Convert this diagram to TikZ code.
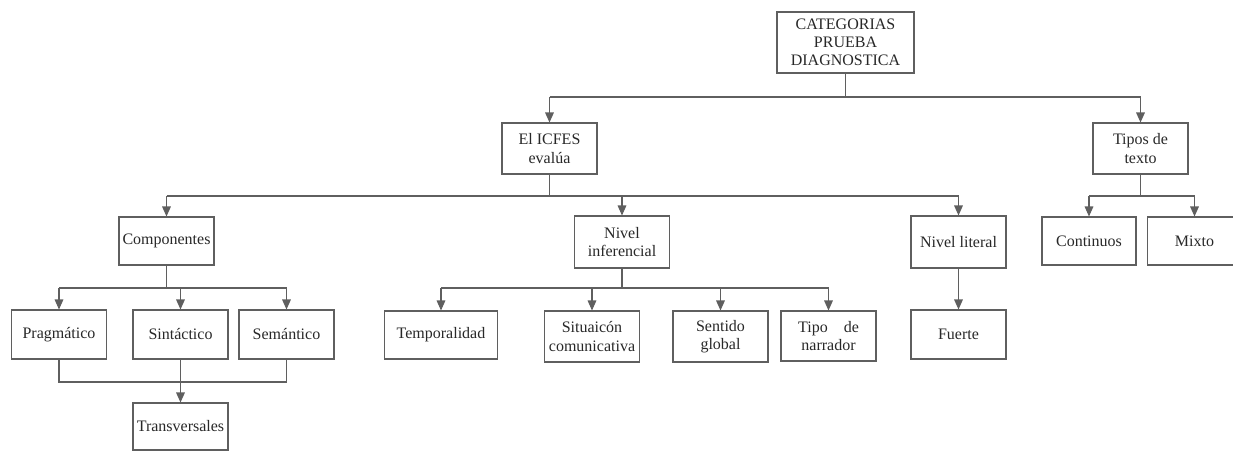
\documentclass[tikz,border=0pt]{standalone}
\usepackage{fontspec}
\setmainfont{LiberationSerif}[Extension=.ttf, UprightFont=*-Regular, BoldFont=*-Bold, ItalicFont=*-Italic]
\usetikzlibrary{arrows.meta}
\definecolor{ln}{RGB}{95,95,95}
\definecolor{tx}{RGB}{40,40,40}
\tikzset{
  bx/.style={draw=ln, line width=0.8pt, fill=white, align=center, text=tx,
    font=\fontsize{12}{13.6}\selectfont, inner sep=0pt, minimum width=71.25pt, minimum height=36pt},
  conn/.style={draw=ln, line width=0.8pt},
  arr/.style={conn, -{Triangle[width=6.5pt,length=7.5pt]}}
}
\begin{document}
\begin{tikzpicture}[x=0.75pt,y=-0.75pt]
\useasboundingbox (0,0) rectangle (1233,451);
% nodes
\node[bx, minimum width=102.75pt, minimum height=45.75pt] (top) at (845.5,42.5) {CATEGORIAS\\PRUEBA\\DIAGNOSTICA};
\node[bx, minimum height=38.25pt] (icfes) at (549.5,148.5) {El ICFES\\evalúa};
\node[bx, minimum height=38.25pt] (tipos) at (1140.5,148.5) {Tipos de\\texto};
\node[bx, minimum width=70.5pt] (cont) at (1089,241) {Continuos};
\node[bx, minimum width=70.5pt] (mixto) at (1194.5,241) {Mixto};
\node[bx] (comp) at (166.5,241) {Componentes};
\node[bx, minimum height=39pt] (ninf) at (622,242) {Nivel\\inferencial};
\node[bx, minimum height=39pt] (nlit) at (958.5,242) {Nivel literal};
\node[bx, minimum height=36.75pt] (prag) at (59,334.5) {Pragmático};
\node[bx, minimum height=36.75pt] (sint) at (180.5,334.5) {Sintáctico};
\node[bx, minimum height=36.75pt] (sem) at (286.5,334.5) {Semántico};
\node[bx, minimum height=35.25pt] (trans) at (180.5,426.5) {Transversales};
\node[bx, minimum width=84.75pt] (temp) at (441,335) {Temporalidad};
\node[bx, minimum height=38.25pt] (sit) at (592,336.5) {Situaicón\\comunicativa};
\node[bx, minimum height=38.25pt] (sent) at (720.5,336.5) {Sentido\\global};
\node[bx, minimum height=37.5pt] (narr) at (828.5,336) {Tipo\quad de\\narrador};
\node[bx, minimum height=36.75pt] (fuerte) at (958.5,334.5) {Fuerte};
% bus levels
\coordinate (b1) at (0,97);
\coordinate (b2) at (0,196);
\coordinate (b3) at (0,288);
\coordinate (b4) at (0,382);
% top
\draw[conn] (top.south) -- (top.south |- b1);
\draw[conn] (icfes.north |- b1) -- (tipos.north |- b1);
\draw[arr] (icfes.north |- b1) -- (icfes.north);
\draw[arr] (tipos.north |- b1) -- (tipos.north);
% icfes
\draw[conn] (icfes.south) -- (icfes.south |- b2);
\draw[conn] (comp.north |- b2) -- (nlit.north |- b2);
\draw[arr] (comp.north |- b2) -- (comp.north);
\draw[arr] (ninf.north |- b2) -- (ninf.north);
\draw[arr] (nlit.north |- b2) -- (nlit.north);
% tipos
\draw[conn] (tipos.south) -- (tipos.south |- b2);
\draw[conn] (cont.north |- b2) -- (mixto.north |- b2);
\draw[arr] (cont.north |- b2) -- (cont.north);
\draw[arr] (mixto.north |- b2) -- (mixto.north);
% componentes
\draw[conn] (comp.south) -- (comp.south |- b3);
\draw[conn] (prag.north |- b3) -- (sem.north |- b3);
\draw[arr] (prag.north |- b3) -- (prag.north);
\draw[arr] (sint.north |- b3) -- (sint.north);
\draw[arr] (sem.north |- b3) -- (sem.north);
% nivel inferencial
\draw[conn] (ninf.south) -- (ninf.south |- b3);
\draw[conn] (temp.north |- b3) -- (narr.north |- b3);
\draw[arr] (temp.north |- b3) -- (temp.north);
\draw[arr] (sit.north |- b3) -- (sit.north);
\draw[arr] (sent.north |- b3) -- (sent.north);
\draw[arr] (narr.north |- b3) -- (narr.north);
% nivel literal
\draw[arr] (nlit.south) -- (fuerte.north);
% transversales
\draw[conn] (prag.south) -- (prag.south |- b4) -- (sem.south |- b4) -- (sem.south);
\draw[arr] (sint.south) -- (trans.north);
\end{tikzpicture}
\end{document}
